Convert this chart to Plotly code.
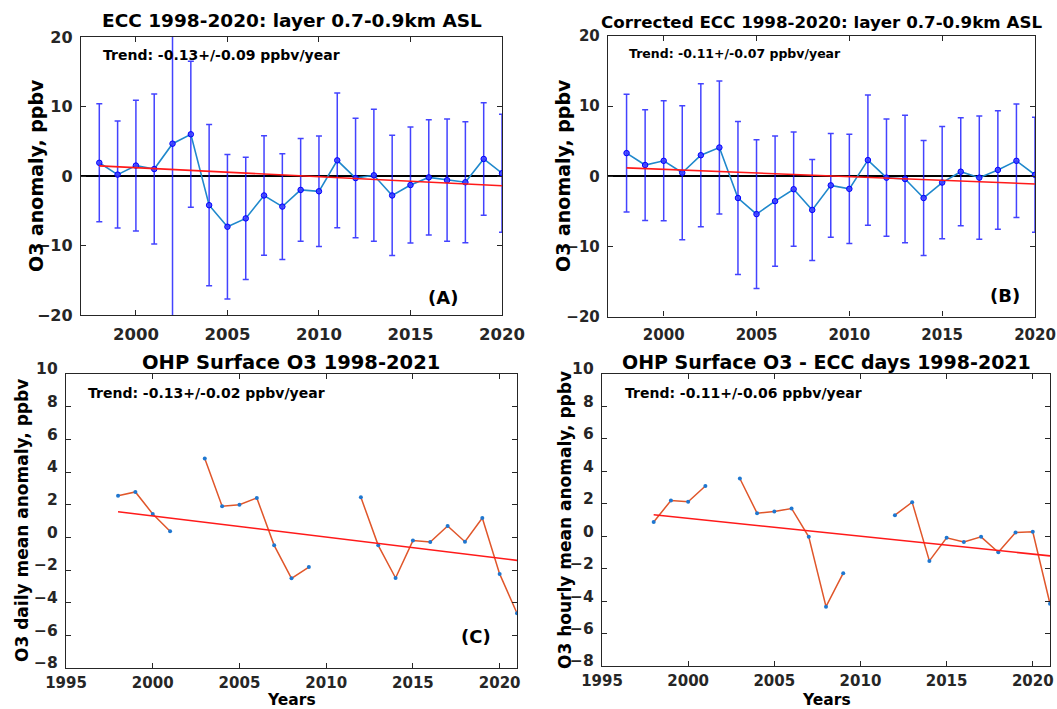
import plotly.graph_objects as go

# ---------------- data ----------------
years_ecc = list(range(1998, 2021))
ecc_a = [1.9, 0.2, 1.5, 1.0, 4.65, 6.0, -4.2, -7.3, -6.1, -2.8, -4.4, -2.0, -2.2,
         2.25, -0.3, 0.1, -2.8, -1.3, -0.2, -0.6, -0.9, 2.45, 0.4]
ecc_a_err = [8.5, 7.7, 9.4, 10.8, 26.0, 10.5, 11.6, 10.4, 8.8, 8.6, 7.6, 7.4, 7.95,
             9.7, 8.6, 9.5, 8.65, 8.35, 8.3, 8.8, 8.7, 8.1, 8.5]
trend_a_x = [1998, 2020]
trend_a = [1.45, -1.4]

ecc_b = [3.3, 1.6, 2.2, 0.5, 3.0, 4.1, -3.1, -5.4, -3.55, -1.85, -4.8, -1.3, -1.8,
         2.3, -0.2, -0.4, -3.1, -0.9, 0.65, -0.2, 0.9, 2.2, 0.2]
ecc_b_err = [8.4, 7.9, 8.55, 9.55, 10.2, 9.5, 10.9, 10.6, 9.3, 8.15, 7.2, 7.4, 7.8,
             9.3, 8.35, 9.1, 8.2, 8.0, 7.7, 8.8, 8.45, 8.1, 8.2]
trend_b_x = [1998, 2020]
trend_b = [1.2, -1.1]

years_sfc = list(range(1998, 2022))
sfc_c = [2.55, 2.78, 1.43, 0.37, None, 4.82, 1.9, 2.0, 2.41, -0.49, -2.51, -1.82,
         None, None, 2.45, -0.49, -2.49, -0.2, -0.29, 0.69, -0.27, 1.18, -2.24, -4.65]
trend_c_x = [1998, 2021]
trend_c = [1.57, -1.41]

sfc_d = [0.88, 2.2, 2.12, 3.1, None, 3.56, 1.42, 1.52, 1.71, -0.04, -4.34, -2.28,
         None, None, 1.3, 2.1, -1.52, -0.1, -0.35, -0.04, -0.99, 0.23, 0.27, -4.16]
trend_d_x = [1998, 2021]
trend_d = [1.32, -1.21]

titles = ["ECC 1998-2020: layer 0.7-0.9km ASL",
          "Corrected ECC 1998-2020: layer 0.7-0.9km ASL",
          "OHP Surface O3 1998-2021",
          "OHP Surface O3 - ECC days 1998-2021"]
trend_texts = ["Trend: -0.13+/-0.09 ppbv/year",
               "Trend: -0.11+/-0.07 ppbv/year",
               "Trend: -0.13+/-0.02 ppbv/year",
               "Trend: -0.11+/-0.06 ppbv/year"]
ylabels = ["O3 anomaly, ppbv", "O3 anomaly, ppbv",
           "O3 daily mean anomaly, ppbv", "O3 hourly mean anomaly, ppbv"]
panel_tags = ["(A)", "(B)", "(C)"]
xlabel = "Years"

# ---------------- figure ----------------
W, H = 1057, 709
FONT = "DejaVu Sans"
AX = "#262626"

def px(x):
    return x / W

def py(y):
    return 1 - y / H

fig = go.Figure()

ERR_COL = "rgba(20,20,255,0.8)"
LINE_COL = "#1f88cc"
MK = dict(size=5.5, color="rgba(60,60,255,0.85)", line=dict(color="#0000ff", width=1))

# Panel A
fig.add_trace(go.Scatter(x=years_ecc, y=ecc_a, mode="lines+markers",
                         line=dict(color=LINE_COL, width=1.6), marker=MK,
                         error_y=dict(type="data", array=ecc_a_err, color=ERR_COL,
                                      thickness=1.5, width=3),
                         xaxis="x", yaxis="y", showlegend=False))
fig.add_trace(go.Scatter(x=trend_a_x, y=trend_a, mode="lines",
                         line=dict(color="#ff1a1a", width=1.6),
                         xaxis="x", yaxis="y", showlegend=False))
# Panel B
fig.add_trace(go.Scatter(x=years_ecc, y=ecc_b, mode="lines+markers",
                         line=dict(color=LINE_COL, width=1.6), marker=MK,
                         error_y=dict(type="data", array=ecc_b_err, color=ERR_COL,
                                      thickness=1.5, width=3),
                         xaxis="x2", yaxis="y2", showlegend=False))
fig.add_trace(go.Scatter(x=trend_b_x, y=trend_b, mode="lines",
                         line=dict(color="#ff1a1a", width=1.6),
                         xaxis="x2", yaxis="y2", showlegend=False))
# Panel C
SMK = dict(size=4, color="#1f77d0")
fig.add_trace(go.Scatter(x=years_sfc, y=sfc_c, mode="lines+markers",
                         line=dict(color="#e0562a", width=1.5), marker=SMK,
                         xaxis="x3", yaxis="y3", showlegend=False))
fig.add_trace(go.Scatter(x=trend_c_x, y=trend_c, mode="lines",
                         line=dict(color="#ff1a1a", width=1.6),
                         xaxis="x3", yaxis="y3", showlegend=False))
# Panel D
fig.add_trace(go.Scatter(x=years_sfc, y=sfc_d, mode="lines+markers",
                         line=dict(color="#e0562a", width=1.5), marker=SMK,
                         xaxis="x4", yaxis="y4", showlegend=False))
fig.add_trace(go.Scatter(x=trend_d_x, y=trend_d, mode="lines",
                         line=dict(color="#ff1a1a", width=1.6),
                         xaxis="x4", yaxis="y4", showlegend=False))

def xax(dom, rng, t0, size, standoff):
    return dict(domain=dom, range=rng, tick0=t0, dtick=5, ticks="inside", ticklen=5,
                tickcolor=AX, tickwidth=1.2, showline=True, linecolor=AX, linewidth=1.4,
                mirror="ticks", showgrid=False, zeroline=False, automargin=False,
                ticklabeloverflow="allow",
                tickfont=dict(family=FONT, size=size, color=AX, weight="bold"),
                ticklabelstandoff=standoff)

def yax(dom, rng, dt, size, zl, anchor, standoff, shift=0):
    return dict(domain=dom, range=rng, dtick=dt, ticks="inside", ticklen=5,
                tickcolor=AX, tickwidth=1.2, showline=True, linecolor=AX, linewidth=1.4,
                mirror="ticks", showgrid=False, zeroline=zl, zerolinecolor="black",
                zerolinewidth=1.5, anchor=anchor, automargin=False,
                tickfont=dict(family=FONT, size=size, color=AX, weight="bold"),
                ticklabelstandoff=standoff, ticklabelshift=shift)

fig.update_layout(
    width=W, height=H, margin=dict(l=0, r=0, t=0, b=0, pad=0, autoexpand=False),
    autosize=False,
    paper_bgcolor="white", plot_bgcolor="white", showlegend=False,
    xaxis=dict(xax([px(81), px(502)], [1997, 2020], 2000, 16.5, 4), anchor="y"),
    yaxis=yax([py(315), py(37)], [-20, 20], 10, 16, True, "x", 4),
    xaxis2=dict(xax([px(608), px(1035)], [1997, 2020], 2000, 15, 4), anchor="y2"),
    yaxis2=yax([py(316.5), py(36)], [-20, 20], 10, 15, True, "x2", 4),
    xaxis3=dict(xax([px(66), px(517)], [1995, 2021], 1995, 15, 1), anchor="y3"),
    yaxis3=yax([py(668), py(374)], [-8, 10], 2, 15.5, False, "x3", 4, -5),
    xaxis4=dict(xax([px(602), px(1050)], [1995, 2021], 1995, 15, 1), anchor="y4"),
    yaxis4=yax([py(666), py(374)], [-8, 10], 2, 15.5, False, "x4", 4, -5),
)

ann = []
def text(t, x, y, size, xanchor="center", angle=0, yanchor="middle"):
    ann.append(dict(text=t, x=px(x), y=py(y), xref="paper", yref="paper",
                    xanchor=xanchor, yanchor=yanchor, showarrow=False, textangle=angle,
                    borderpad=0,
                    font=dict(family=FONT, size=size, color="black", weight="bold")))

text(titles[0], 291.5, 21, 18.5)
text(titles[1], 821, 22, 16.7)
text(titles[2], 291, 362.5, 19.5)
text(titles[3], 826, 362, 19)

text(trend_texts[0], 101.5, 55, 14, "left")
text(trend_texts[1], 627.5, 54, 12.5, "left")
text(trend_texts[2], 87, 392.7, 14, "left")
text(trend_texts[3], 624, 393.3, 14, "left")

text(panel_tags[0], 443, 297, 18)
text(panel_tags[1], 1004.5, 295, 18)
text(panel_tags[2], 476, 636, 18)

text(ylabels[0], 36, 176, 19, angle=-90)
text(ylabels[1], 563, 176, 19, angle=-90)
text(ylabels[2], 22, 521, 17, angle=-90)
text(ylabels[3], 565, 520, 17, angle=-90)

text(xlabel, 291.5, 700, 15.5)
text(xlabel, 826.5, 700, 15.5)

fig.update_layout(annotations=ann)
fig.write_html("out.html", config={"displayModeBar": False},
               post_script="document.body.style.margin='0';document.body.style.overflow='hidden';")
